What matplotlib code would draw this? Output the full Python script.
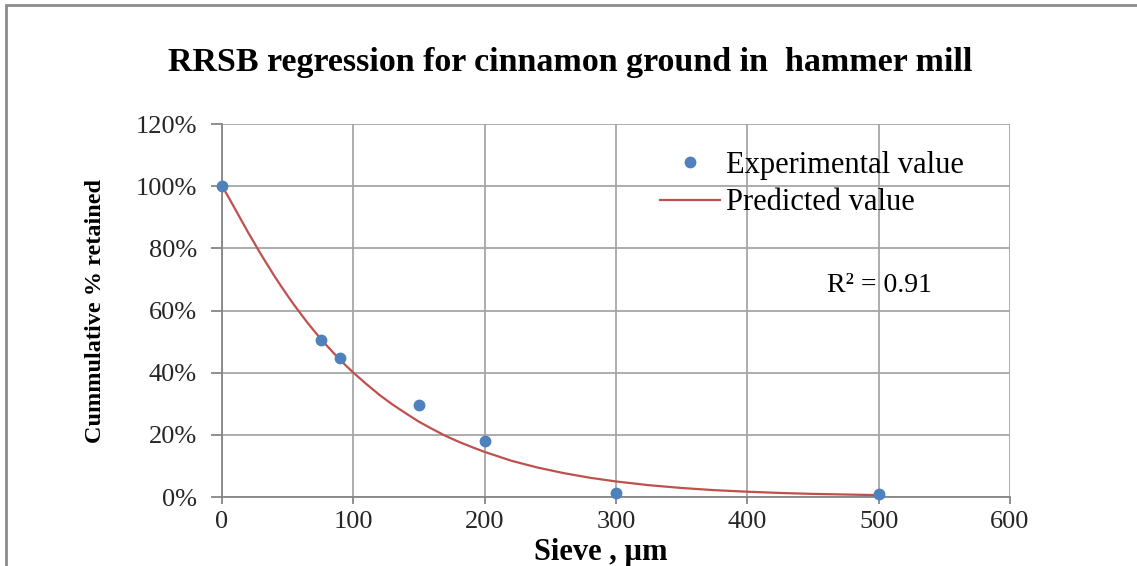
import matplotlib as mpl
import matplotlib.pyplot as plt
import matplotlib.ticker as mTicker
from matplotlib.patches import Rectangle

# Sieve sizes (um) and measured cumulative fraction retained.
sieveExp = [0, 75, 90, 150, 200, 300, 500]
retainedExp = [1.00, 0.505, 0.447, 0.296, 0.18, 0.013, 0.011]

# RRSB model curve, read at regular sieve sizes.
sievePred = [0, 5, 10, 15, 20, 25, 30, 35, 40, 45, 50, 55, 60, 65, 70, 75,
             80, 85, 90, 95, 100, 110, 120, 130, 140, 150, 160, 170, 180,
             190, 200, 220, 240, 260, 280, 300, 325, 350, 375, 400, 425,
             450, 475, 500]
retainedPred = [1.000, 0.964, 0.926, 0.888, 0.850, 0.814, 0.778, 0.744,
                0.710, 0.678, 0.647, 0.617, 0.589, 0.561, 0.535, 0.510,
                0.486, 0.463, 0.441, 0.420, 0.400, 0.363, 0.328, 0.297,
                0.269, 0.242, 0.219, 0.197, 0.178, 0.161, 0.145, 0.117,
                0.095, 0.077, 0.062, 0.050, 0.038, 0.029, 0.022, 0.017,
                0.013, 0.010, 0.008, 0.006]

xTicks = [0, 100, 200, 300, 400, 500, 600]
yTicks = [0, 0.2, 0.4, 0.6, 0.8, 1.0, 1.2]

mpl.rcParams['font.family'] = ['Liberation Serif', 'DejaVu Serif']
gridColor = '#a6a6a6'
axisColor = '#868686'

fig = plt.figure(figsize=(11.37, 5.66), dpi=100)
ax = fig.add_axes([0.1953, 0.1219, 0.6930, 0.6590])

ax.plot(sievePred, retainedPred, color='#c0504d', lw=1.6,
        label='Predicted value', zorder=3)
ax.plot(sieveExp, retainedExp, 'o', color='#4f81bd', ms=7.5, mec='#4f81bd',
        label='Experimental value', zorder=4, clip_on=False)

ax.set_xlim(0, 600)
ax.set_ylim(0, 1.2)
ax.set_xticks(xTicks)
ax.set_yticks(yTicks)
ax.yaxis.set_major_formatter(mTicker.FuncFormatter(lambda v, p: '%d%%' % round(v * 100)))
ax.grid(True, color=gridColor, lw=1.3)
ax.set_axisbelow(True)
for side in ['top', 'right']:
    ax.spines[side].set_visible(False)
for side in ['left', 'bottom']:
    ax.spines[side].set_color(axisColor)
    ax.spines[side].set_linewidth(1.3)
ax.tick_params(axis='both', colors=axisColor, width=1.3, labelcolor='#262626',
               labelsize=19)
ax.tick_params(axis='y', length=8, pad=10)
ax.tick_params(axis='x', length=5, pad=5)

ax.set_xlabel('Sieve , \u00b5m', fontsize=22, fontweight='bold', labelpad=4)
ax.xaxis.label.set_x(0.481)
ax.set_ylabel('Cummulative % retained', fontsize=17.5, fontweight='bold',
              labelpad=21)
fig.text(0.5013, 0.889, 'RRSB regression for cinnamon ground in  hammer mill',
         ha='center', va='center', fontsize=24.5, fontweight='bold')

handles, labels = ax.get_legend_handles_labels()
lg = ax.legend(handles[::-1], labels[::-1], loc='upper left',
               bbox_to_anchor=(0.556, 0.928), frameon=False, fontsize=22,
               handlelength=1.95, handletextpad=0.2, labelspacing=0.28,
               borderaxespad=0, borderpad=0)

ax.text(0.835, 0.566, 'R\u00b2 = 0.91', transform=ax.transAxes, fontsize=20,
        ha='center', va='center')

# outer chart frame
fig.add_artist(Rectangle((6 / 1137, -0.2), 1.2, 1.2 - 8 / 566 + 0.005,
                         transform=fig.transFigure, fill=False,
                         ec='#8c8c8c', lw=2))

fig.savefig('out.png', dpi=100)
